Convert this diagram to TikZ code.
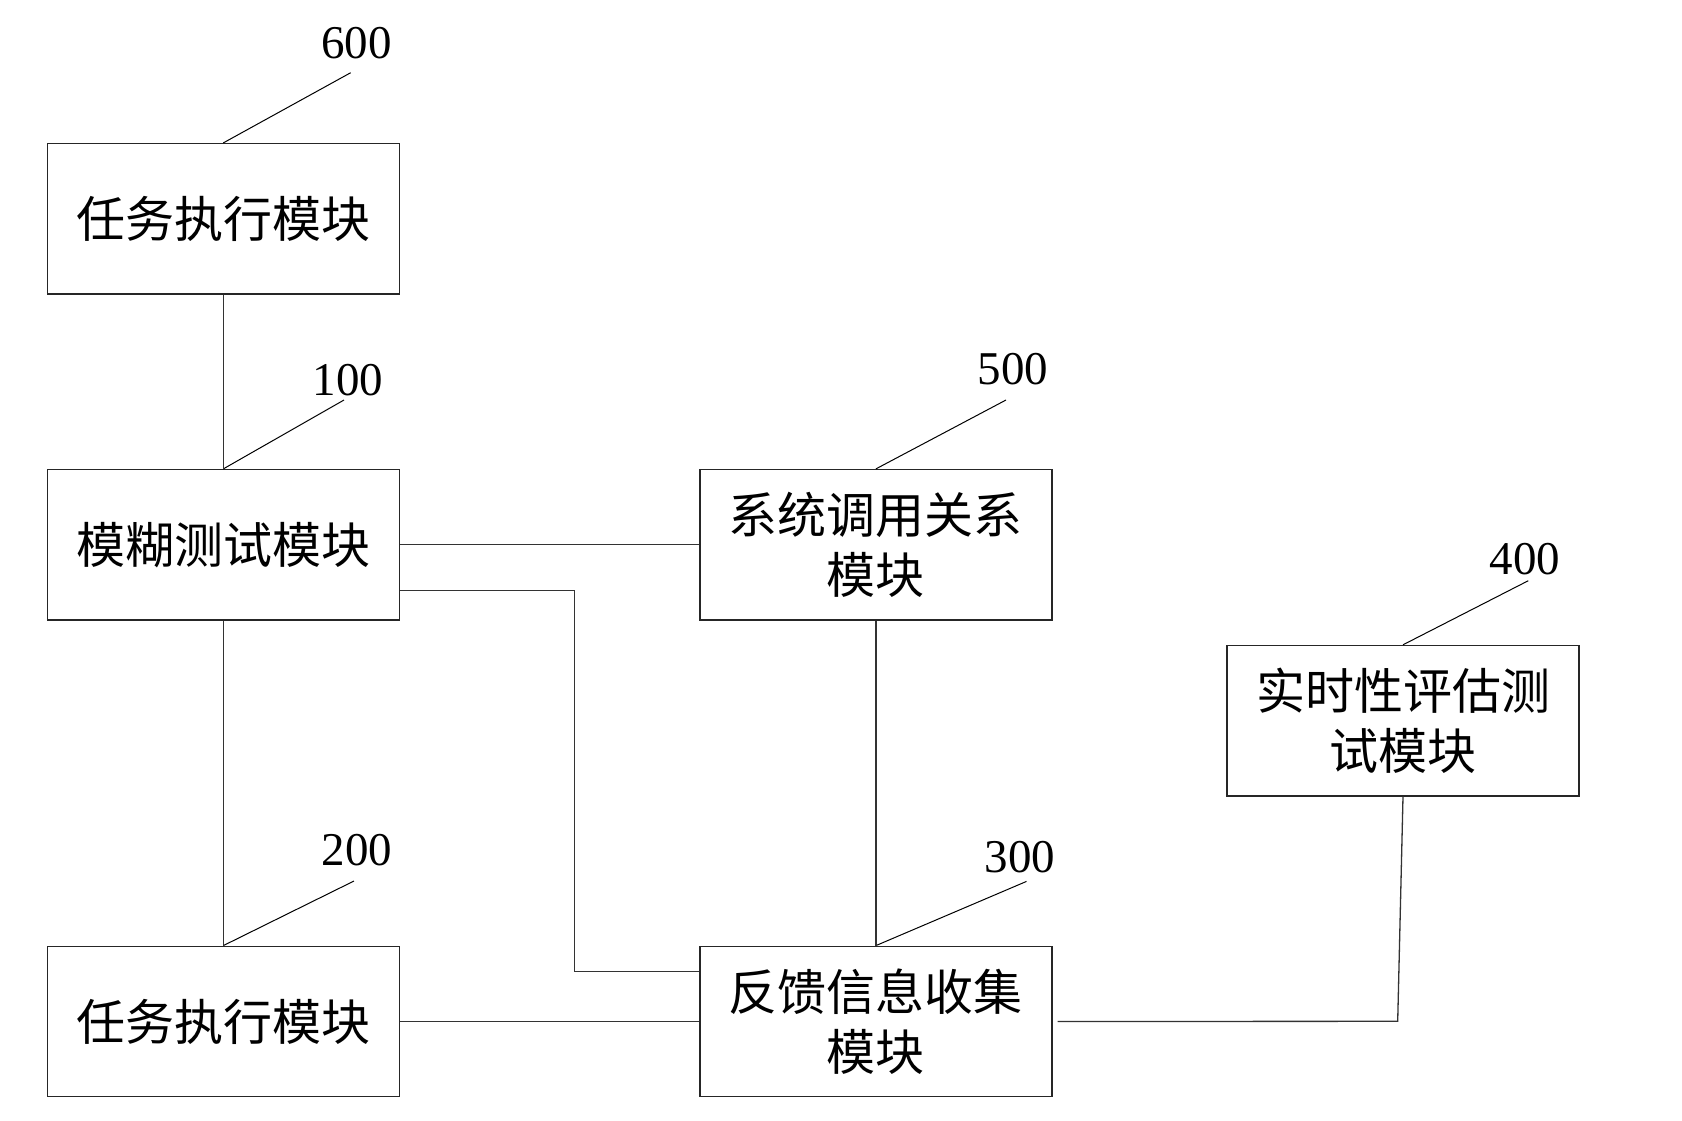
\documentclass[tikz,border=0pt]{standalone}
\usepackage{fontspec}
\setmainfont{Liberation Serif}
\newfontfamily\cjk{Noto Sans CJK SC}
\begin{document}
\begin{tikzpicture}[x=0.5pt,y=-0.5pt,
  module/.style={draw=black!85, line width=0.65pt, minimum width=176pt,
    minimum height=75.25pt, inner sep=0pt, align=center,
    font=\cjk\fontsize{24.5pt}{30pt}\selectfont},
  wire/.style={draw=black!80, line width=0.65pt},
  refnum/.style={inner sep=0pt, font=\fontsize{23.5pt}{28pt}\selectfont},
  leader/.style={draw=black, line width=0.5pt}]
\useasboundingbox (0,0) rectangle (1682,1120);

% modules
\node[module] (b600) at (223.3,218.8) {任务执行模块};
\node[module] (b100) at (223.3,544.8) {模糊测试模块};
\node[module] (b200) at (223.3,1021.5) {任务执行模块};
\node[module] (b500) at (875.9,544.8) {系统调用关系\\模块};
\node[module] (b300) at (875.9,1021.5) {反馈信息收集\\模块};
\node[module] (b400) at (1403,720.7) {实时性评估测\\试模块};

% reference numerals with leader lines
\node[refnum] (n600) at (356.7,43.3) {600};
\node[refnum] (n100) at (348,380.5) {100};
\node[refnum] (n200) at (357.2,850.5) {200};
\node[refnum] (n500) at (1013,369) {500};
\node[refnum] (n300) at (1020,857) {300};
\node[refnum] (n400) at (1525,559.5) {400};
\coordinate (t600) at (350.7,72.7);
\coordinate (t100) at (344,400);
\coordinate (t200) at (354,881);
\coordinate (t500) at (1006,400);
\coordinate (t300) at (1026.5,881.4);
\coordinate (t400) at (1528.3,580.7);
\draw[leader] (b600.north) -- (t600);
\draw[leader] (b100.north) -- (t100);
\draw[leader] (b200.north) -- (t200);
\draw[leader] (b500.north) -- (t500);
\draw[leader] (b300.north) -- (t300);
\draw[leader] (b400.north) -- (t400);

% connections
\draw[wire] (b600.south) -- (b100.north);
\draw[wire] (b100.south) -- (b200.north);
\draw[wire] (b100.east) -- (b500.west);
\draw[wire] (b500.south) -- (b300.north);
\draw[wire] (b200.east) -- (b300.west);
\coordinate (e1) at (574.7,590.6);
\coordinate (e2) at (574.7,971.3);
\draw[wire] (b100.east |- e1) -- (e1) -- (e2) -- (b300.west |- e2);
\coordinate (e3) at (1397.7,1021.3);
\draw[wire] ([xshift=2.5pt]b300.east) -- (e3) -- (b400.south);
\end{tikzpicture}
\end{document}
